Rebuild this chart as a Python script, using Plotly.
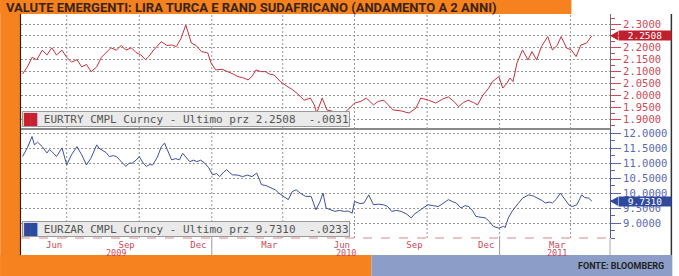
import plotly.graph_objects as go

# ---------------- data ----------------
title_text = "VALUTE EMERGENTI: LIRA TURCA E RAND SUDAFRICANO (ANDAMENTO A 2 ANNI)"
source_text = "FONTE: BLOOMBERG"

try_dates = [
    "2009-05-06", "2009-05-12", "2009-05-18", "2009-05-24", "2009-05-31", "2009-06-06",
    "2009-06-12", "2009-06-18", "2009-06-25", "2009-07-01", "2009-07-07", "2009-07-14",
    "2009-07-20", "2009-07-26", "2009-08-01", "2009-08-08", "2009-08-14", "2009-08-20",
    "2009-08-26", "2009-09-02", "2009-09-08", "2009-09-14", "2009-09-21", "2009-09-27",
    "2009-10-03", "2009-10-09", "2009-10-13", "2009-10-19", "2009-10-26", "2009-10-29",
    "2009-11-05", "2009-11-11", "2009-11-17", "2009-11-23", "2009-11-29", "2009-12-02",
    "2009-12-06", "2009-12-12", "2009-12-19", "2009-12-25", "2009-12-27", "2009-12-31",
    "2010-01-06", "2010-01-14", "2010-01-22", "2010-01-28", "2010-02-03", "2010-02-09",
    "2010-02-16", "2010-02-21", "2010-02-26", "2010-03-04", "2010-03-10", "2010-03-15",
    "2010-03-21", "2010-03-29", "2010-04-07", "2010-04-13", "2010-04-19", "2010-04-28",
    "2010-05-06", "2010-05-11", "2010-05-14", "2010-05-21", "2010-05-27", "2010-06-05",
    "2010-06-12", "2010-06-19", "2010-06-25", "2010-07-01", "2010-07-09", "2010-07-16",
    "2010-07-25", "2010-07-31", "2010-08-07", "2010-08-13", "2010-08-19", "2010-08-29",
    "2010-09-08", "2010-09-17", "2010-09-23", "2010-10-03", "2010-10-12", "2010-10-21",
    "2010-10-28", "2010-11-04", "2010-11-10", "2010-11-16", "2010-11-22", "2010-11-29",
    "2010-12-04", "2010-12-11", "2010-12-18", "2010-12-23", "2010-12-31", "2011-01-05",
    "2011-01-10", "2011-01-14", "2011-01-18", "2011-01-23", "2011-01-30", "2011-02-06",
    "2011-02-11", "2011-02-17", "2011-02-23", "2011-03-03", "2011-03-09", "2011-03-15",
    "2011-03-20", "2011-03-27", "2011-04-02", "2011-04-08", "2011-04-14", "2011-04-21",
    "2011-04-28",
]
try_values = [
    2.090, 2.120, 2.160, 2.150, 2.190, 2.170,
    2.200, 2.170, 2.190, 2.160, 2.140, 2.150,
    2.120, 2.130, 2.100, 2.120, 2.160, 2.180,
    2.200, 2.190, 2.210, 2.190, 2.200, 2.180,
    2.170, 2.150, 2.163, 2.190, 2.215, 2.226,
    2.210, 2.212, 2.205, 2.240, 2.296, 2.260,
    2.220, 2.210, 2.184, 2.180, 2.178, 2.136,
    2.107, 2.110, 2.100, 2.090, 2.079, 2.075,
    2.065, 2.080, 2.107, 2.100, 2.100, 2.090,
    2.086, 2.058, 2.037, 2.025, 2.009, 1.980,
    1.989, 1.960, 1.926, 1.989, 1.939, 1.932,
    1.918, 1.930, 1.947, 1.968, 1.975, 1.989,
    1.960, 1.975, 1.980, 1.960, 1.939, 1.935,
    1.926, 1.947, 1.989, 1.980, 1.968, 1.985,
    1.994, 1.975, 1.953, 1.970, 1.980, 1.970,
    1.960, 2.002, 2.030, 2.058, 2.079, 2.031,
    2.050, 2.073, 2.058, 2.136, 2.191, 2.149,
    2.184, 2.149, 2.205, 2.247, 2.191, 2.210,
    2.247, 2.199, 2.191, 2.163, 2.212, 2.219,
    2.2508,
]

zar_dates = [
    "2009-05-06", "2009-05-12", "2009-05-18", "2009-05-21", "2009-05-25", "2009-05-31",
    "2009-06-06", "2009-06-09", "2009-06-12", "2009-06-18", "2009-06-25", "2009-07-01",
    "2009-07-07", "2009-07-14", "2009-07-20", "2009-07-26", "2009-08-01", "2009-08-08",
    "2009-08-11", "2009-08-15", "2009-08-20", "2009-08-24", "2009-08-29", "2009-09-02",
    "2009-09-08", "2009-09-14", "2009-09-18", "2009-09-22", "2009-09-27", "2009-10-01",
    "2009-10-06", "2009-10-10", "2009-10-14", "2009-10-18", "2009-10-24", "2009-10-29",
    "2009-11-02", "2009-11-06", "2009-11-11", "2009-11-16", "2009-11-21", "2009-11-25",
    "2009-11-29", "2009-12-04", "2009-12-09", "2009-12-13", "2009-12-18", "2009-12-23",
    "2009-12-28", "2010-01-02", "2010-01-07", "2010-01-11", "2010-01-16", "2010-01-20",
    "2010-01-23", "2010-01-27", "2010-02-03", "2010-02-09", "2010-02-15", "2010-02-21",
    "2010-02-27", "2010-03-05", "2010-03-11", "2010-03-18", "2010-03-23", "2010-03-27",
    "2010-04-02", "2010-04-08", "2010-04-13", "2010-04-18", "2010-04-23", "2010-04-30",
    "2010-05-07", "2010-05-13", "2010-05-18", "2010-05-22", "2010-05-26", "2010-06-01",
    "2010-06-06", "2010-06-12", "2010-06-18", "2010-06-23", "2010-06-28", "2010-07-01",
    "2010-07-08", "2010-07-13", "2010-07-19", "2010-07-25", "2010-07-31", "2010-08-07",
    "2010-08-12", "2010-08-17", "2010-08-23", "2010-08-29", "2010-09-05", "2010-09-11",
    "2010-09-15", "2010-09-20", "2010-09-26", "2010-10-02", "2010-10-09", "2010-10-15",
    "2010-10-21", "2010-10-28", "2010-11-02", "2010-11-07", "2010-11-13", "2010-11-18",
    "2010-11-23", "2010-11-28", "2010-12-02", "2010-12-08", "2010-12-14", "2010-12-19",
    "2010-12-24", "2010-12-31", "2011-01-06", "2011-01-08", "2011-01-12", "2011-01-17",
    "2011-01-21", "2011-01-26", "2011-01-30", "2011-02-03", "2011-02-07", "2011-02-13",
    "2011-02-19", "2011-02-24", "2011-02-28", "2011-03-05", "2011-03-09", "2011-03-14",
    "2011-03-19", "2011-03-25", "2011-03-30", "2011-04-03", "2011-04-09", "2011-04-15",
    "2011-04-19", "2011-04-24", "2011-04-28",
]
zar_values = [
    11.22, 11.51, 11.89, 11.61, 11.70, 11.55,
    11.34, 11.45, 11.39, 11.22, 11.51, 10.94,
    11.28, 11.55, 11.28, 10.94, 11.18, 11.61,
    11.50, 11.44, 11.35, 11.22, 11.25, 11.22,
    11.05, 10.89, 11.00, 11.00, 11.10, 11.22,
    11.00, 10.89, 10.95, 10.94, 11.20, 11.55,
    11.67, 11.40, 11.11, 11.15, 11.11, 11.33,
    11.20, 11.05, 11.10, 11.05, 11.10, 11.00,
    10.85, 10.61, 10.65, 10.55, 10.70, 10.78,
    10.70, 10.61, 10.60, 10.55, 10.60, 10.55,
    10.67, 10.28, 10.25, 10.17, 10.10, 10.00,
    9.90, 9.78, 10.05, 10.11, 10.00, 9.89,
    9.89, 9.44, 9.70, 10.00, 9.50, 9.45,
    9.39, 9.42, 9.39, 9.40, 9.33, 9.72,
    9.65, 9.67, 9.94, 9.61, 9.63, 9.61,
    9.55, 9.39, 9.42, 9.39, 9.30, 9.17,
    9.30, 9.39, 9.50, 9.61, 9.58, 9.55,
    9.65, 9.78, 9.72, 9.67, 9.50, 9.58,
    9.55, 9.40, 9.22, 9.20, 9.17, 9.05,
    8.89, 8.83, 8.89, 8.85, 9.17, 9.40,
    9.55, 9.70, 9.83, 9.90, 9.94, 9.90,
    9.83, 9.75, 9.67, 9.70, 9.67, 9.80,
    10.00, 9.78, 9.60, 9.55, 9.61, 9.94,
    9.85, 9.83, 9.731,
]

try_legend = "EURTRY CMPL Curncy - Ultimo prz 2.2508  -.0031"
zar_legend = "EURZAR CMPL Curncy - Ultimo prz 9.7310  -.0233"

try_ticks = [1.90, 1.95, 2.00, 2.05, 2.10, 2.15, 2.20, 2.25, 2.30]
try_tick_text = ["1.9000", "1.9500", "2.0000", "2.0500", "2.1000", "2.1500", "2.2000", "", "2.3000"]
zar_ticks = [9.0, 9.5, 10.0, 10.5, 11.0, 11.5, 12.0]
x_tick_dates = ["2009-06-15", "2009-09-15", "2009-12-15", "2010-03-15",
                "2010-06-15", "2010-09-15", "2010-12-15", "2011-03-15"]
x_tick_text = ["Jun", "Sep", "Dec", "Mar", "Jun", "Sep", "Dec", "Mar"]
year_label_dates = ["2009-09-01", "2010-06-20", "2011-03-15"]
year_labels = ["2009", "2010", "2011"]
quarter_grid = ["2009-07-01", "2009-10-01", "2010-01-01", "2010-04-01",
                "2010-07-01", "2010-10-01", "2011-01-01", "2011-04-01"]
year_marks = ["2010-01-01", "2011-01-01"]

# ---------------- style / layout ----------------
W, H = 679, 276
ML, MR, MT, MB = 21, 63, 14, 38
PW, PH = W - ML - MR, H - MT - MB
SPLIT_PX = 129
split = (H - MB - SPLIT_PX) / PH


def px(x):
    return (x - ML) / PW


def py(y):
    return (H - MB - y) / PH


ORANGE = "#F5821F"
BLUEGRAY = "#8C9EC8"
RED = "#C8303C"
RED_TXT = "#CC4A58"
BLUE = "#3E4F9E"
BLUE_TXT = "#5A68AE"
GRID = "#979797"
GRID_DASH = "2px,2px"
MONO = "DejaVu Sans Mono, Liberation Mono, monospace"

fig = go.Figure()
fig.add_trace(go.Scatter(x=try_dates, y=try_values, mode="lines",
                         line=dict(color=RED, width=1), xaxis="x", yaxis="y",
                         showlegend=False, hoverinfo="skip"))
fig.add_trace(go.Scatter(x=zar_dates, y=zar_values, mode="lines",
                         line=dict(color=BLUE, width=1), xaxis="x2", yaxis="y2",
                         showlegend=False, hoverinfo="skip"))

xrange = ["2009-05-04", "2011-05-21"]

shapes = [
    dict(type="rect", xref="paper", yref="paper", x0=px(0), x1=px(577), y0=py(14), y1=py(0),
         fillcolor=ORANGE, line_width=0, layer="below"),
    dict(type="rect", xref="paper", yref="paper", x0=px(0), x1=px(20), y0=py(276), y1=py(0),
         fillcolor=ORANGE, line_width=0, layer="below"),
    dict(type="rect", xref="paper", yref="paper", x0=px(0), x1=px(375), y0=py(276), y1=py(255),
         fillcolor=ORANGE, line_width=0, layer="below"),
    dict(type="rect", xref="paper", yref="paper", x0=px(375), x1=px(679), y0=py(276), y1=py(255),
         fillcolor=BLUEGRAY, line_width=0, layer="below"),
    dict(type="line", xref="paper", yref="paper", x0=px(20.5), x1=px(20.5), y0=py(255), y1=py(14),
         line=dict(color="#222222", width=1.2)),
    dict(type="line", xref="paper", yref="paper", x0=px(678), x1=px(678), y0=py(255), y1=py(14),
         line=dict(color="#333333", width=1.5)),
    dict(type="line", xref="paper", yref="paper", x0=0, x1=1, y0=split, y1=split,
         line=dict(color="#8A8A8A", width=2)),
    dict(type="line", xref="paper", yref="paper", x0=0, x1=1, y0=0, y1=0,
         line=dict(color="#D88890", width=1, dash="dash")),
    dict(type="line", xref="paper", yref="paper", x0=1, x1=1, y0=py(255), y1=0,
         line=dict(color="#AAAAAA", width=1)),
]
# vertical dotted grid at quarter starts (both panels)
for d in quarter_grid:
    for yr in ["y", "y2"]:
        shapes.append(dict(type="line", xref="x2", yref=f"{yr} domain", x0=d, x1=d, y0=0, y1=1,
                           line=dict(color=GRID, width=1, dash=GRID_DASH), layer="below"))
for d in year_marks:
    shapes.append(dict(type="line", xref="x2", yref="paper", x0=d, x1=d, y0=py(255), y1=0,
                       line=dict(color="#999999", width=1)))

try_half = 4.5 * (2.342 - 1.859) / (PH * (1 - split))
zar_half = 4.5 * (12.14 - 8.5) / (PH * split)
for val, half, col, yr in [(try_values[-1], try_half, "#C0202E", "y"),
                           (zar_values[-1], zar_half, "#2F4A9C", "y2")]:
    shapes.append(dict(type="path", xref="paper", yref=yr,
                       path=f"M {px(616)},{val} L {px(624)},{val + half} L {px(624)},{val - half} Z",
                       fillcolor=col, line_width=0))

annotations = [
    dict(text=title_text, xref="paper", yref="paper", x=px(4), y=py(7), xanchor="left",
         yanchor="middle", showarrow=False,
         font=dict(family="Roboto", size=13, color="#3A2414", weight="bold")),
    dict(text=source_text, xref="paper", yref="paper", x=px(673), y=py(266), xanchor="right",
         yanchor="middle", showarrow=False,
         font=dict(family="Roboto", size=9, color="#222222", weight="bold")),
    dict(text=f"<span style='color:#C8202E'>\u2588\u2588</span> {try_legend}", xref="paper",
         yref="y domain", x=px(22), y=0.02, xanchor="left", yanchor="bottom", showarrow=False,
         bgcolor="#EAEAEA", bordercolor="#9A9A9A", borderwidth=1, borderpad=0,
         font=dict(family=MONO, size=11, color="#555555")),
    dict(text=f"<span style='color:#2F4A9C'>\u2588\u2588</span> {zar_legend}", xref="paper",
         yref="y2 domain", x=px(22), y=0.01, xanchor="left", yanchor="bottom", showarrow=False,
         bgcolor="#EAEAEA", bordercolor="#9A9A9A", borderwidth=1, borderpad=0,
         font=dict(family=MONO, size=11, color="#555555")),
    dict(text=f"{try_values[-1]:.4f}", xref="paper", yref="y", x=px(624), y=try_values[-1],
         xanchor="left", yanchor="middle", showarrow=False, bgcolor="#C0202E", width=52,
         height=9, borderpad=0, font=dict(family=MONO, size=9.5, color="white")),
    dict(text=f"{zar_values[-1]:.4f}", xref="paper", yref="y2", x=px(624), y=zar_values[-1],
         xanchor="left", yanchor="middle", showarrow=False, bgcolor="#2F4A9C", width=52,
         height=9, borderpad=0, font=dict(family=MONO, size=9.5, color="white")),
]
for d, t in zip(year_label_dates, year_labels):
    annotations.append(dict(text=t, xref="x2", yref="paper", x=d, y=py(253), xanchor="center",
                            yanchor="middle", showarrow=False,
                            font=dict(family=MONO, size=8.5, color=RED_TXT)))

fig.update_layout(
    width=W, height=H,
    margin=dict(l=ML, r=MR, t=MT, b=MB, pad=0),
    paper_bgcolor="white", plot_bgcolor="rgba(0,0,0,0)",
    showlegend=False,
    xaxis=dict(type="date", range=xrange, matches="x2", anchor="y", showticklabels=False,
               showgrid=False, zeroline=False, ticks=""),
    xaxis2=dict(type="date", range=xrange, anchor="y2", tickmode="array",
                tickvals=x_tick_dates, ticktext=x_tick_text, showgrid=False, zeroline=False,
                ticks="", tickfont=dict(family=MONO, size=9, color=RED_TXT)),
    yaxis=dict(domain=[split, 1], range=[1.859, 2.342], side="right", anchor="x",
               tickmode="array", tickvals=try_ticks, ticktext=try_tick_text,
               ticks="outside", ticklen=10, tickcolor=RED_TXT, tickwidth=1,
               tickfont=dict(family=MONO, size=10.5, color=RED_TXT),
               showgrid=True, gridcolor=GRID, griddash=GRID_DASH, gridwidth=1, zeroline=False,
               showline=True, linecolor="#7A6A70", linewidth=1,
               minor=dict(tickmode="linear", tick0=0, dtick=0.025, ticks="outside",
                          ticklen=4, tickcolor=RED_TXT, showgrid=False)),
    yaxis2=dict(domain=[0, split], range=[8.5, 12.14], side="right", anchor="x2",
                tickmode="array", tickvals=zar_ticks, tickformat=".4f",
                ticks="outside", ticklen=10, tickcolor=BLUE_TXT, tickwidth=1,
                tickfont=dict(family=MONO, size=10.5, color=BLUE_TXT),
                showgrid=True, gridcolor=GRID, griddash=GRID_DASH, gridwidth=1, zeroline=False,
                showline=True, linecolor="#4A58A0", linewidth=1,
                minor=dict(tickmode="linear", tick0=0, dtick=0.25, ticks="outside",
                           ticklen=4, tickcolor=BLUE_TXT, showgrid=False)),
    shapes=shapes,
    annotations=annotations,
)

fig.write_html("out.html")
